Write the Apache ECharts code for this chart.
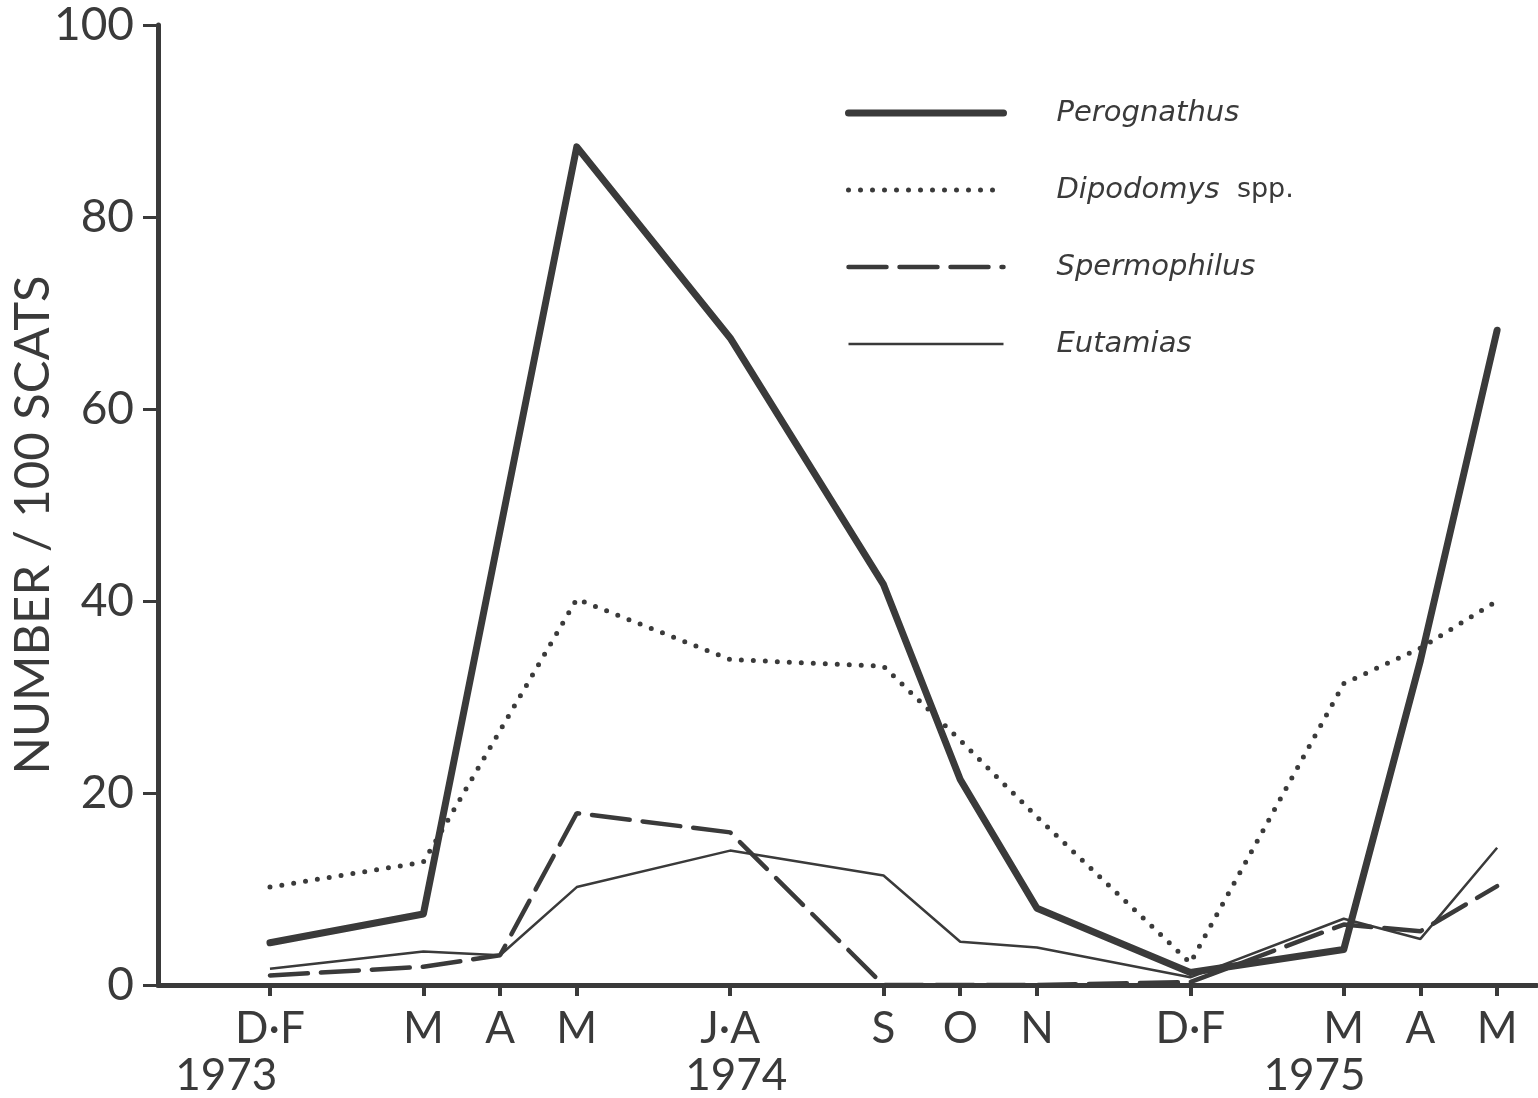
<!DOCTYPE html>
<html><head><meta charset="utf-8">
<script src="https://cdn.jsdelivr.net/npm/echarts@6/dist/echarts.min.js"></script>
<style>html,body{margin:0;padding:0;background:#fff}#c{width:1538px;height:1098px}</style>
</head><body><div id="c"></div>
<script>
// positions of the sampling periods along the time axis (months from D·F 1973)
const monthPos = [0, 2, 3, 4, 6, 8, 9, 10, 12, 14, 15, 16];
const monthLabels = ['D·F', 'M', 'A', 'M', 'J·A', 'S', 'O', 'N', 'D·F', 'M', 'A', 'M'];
const yearPos = [-0.57, 6.08, 13.62];
const yearLabels = ['1973', '1974', '1975'];

const seriesNames = ['Perognathus', 'Dipodomys spp.', 'Spermophilus', 'Eutamias'];
const perognathus  = [4.4, 7.4, null, 87.3, 67.4, 41.7, 21.4, 8.0, 1.3, 3.7, 33.8, 68.2];
const dipodomys    = [10.2, 12.8, null, 40.2, 33.9, 33.2, 25.5, 17.5, 2.3, 31.4, 35.1, 40.0];
const spermophilus = [1.0, 1.9, 3.1, 17.9, 15.9, 0, 0, 0, 0.3, 6.3, 5.6, 10.3];
const eutamias     = [1.7, 3.5, 3.1, 10.2, 14.0, 11.4, 4.5, 3.9, 0.8, 6.9, 4.8, 14.3];

const INK = '#3a3a3a';
const FONT = 'Lato';
const LFONT = 'DejaVu Sans';

function pts(arr) {
  const out = [];
  arr.forEach((v, i) => { if (v !== null) out.push([monthPos[i], v]); });
  return out;
}

const chart = echarts.init(document.getElementById('c'), null, {renderer: 'canvas'});
chart.setOption({
  animation: false,
  backgroundColor: '#ffffff',
  grid: {left: 158, right: 1, top: 25, bottom: 113, outerBoundsMode: 'none', containLabel: false},
  legend: {
    orient: 'vertical',
    left: 840, top: 90,
    itemWidth: 155, itemHeight: 14,
    itemGap: 41,
    data: seriesNames,
    itemStyle: {opacity: 0, borderWidth: 0},
    lineStyle: {width: 'inherit', type: 'inherit', cap: 'inherit', color: 'inherit'},
    formatter: function (name) {
      if (name === 'Dipodomys spp.') return '{g| }{i|Dipodomys}{n|  spp.}';
      return '{g| }{i|' + name + '}';
    },
    textStyle: {
      color: INK, fontFamily: LFONT, fontSize: 29, lineHeight: 36,
      rich: {
        g: {width: 48, fontSize: 29},
        i: {fontStyle: 'italic', fontFamily: LFONT, fontSize: 29, color: INK},
        n: {fontStyle: 'normal', fontFamily: LFONT, fontSize: 27, color: INK}
      }
    }
  },
  xAxis: [{
    type: 'value', min: -1.46, max: 16.52,
    splitLine: {show: false},
    axisLine: {show: true, onZero: false, lineStyle: {color: INK, width: 5}},
    axisTick: {show: true, customValues: monthPos, length: 11, lineStyle: {color: INK, width: 4}},
    axisLabel: {
      show: true, customValues: monthPos, margin: 22,
      formatter: function (v) { const i = monthPos.indexOf(v); return i >= 0 ? monthLabels[i] : ''; },
      color: INK, fontFamily: FONT, fontSize: 44, lineHeight: 44
    }
  }, {
    type: 'value', min: -1.46, max: 16.52, position: 'bottom', gridIndex: 0,
    splitLine: {show: false},
    axisLine: {show: false, onZero: false}, axisTick: {show: false},
    axisLabel: {
      show: true, customValues: yearPos, margin: 69,
      formatter: function (v) { const i = yearPos.indexOf(v); return i >= 0 ? yearLabels[i] : ''; },
      color: INK, fontFamily: FONT, fontSize: 44, lineHeight: 44
    }
  }],
  yAxis: {
    type: 'value', min: 0, max: 100, interval: 20,
    splitLine: {show: false},
    axisLine: {show: true, onZero: false, lineStyle: {color: INK, width: 5}},
    axisTick: {show: true, length: 15, lineStyle: {color: INK, width: 3}},
    axisLabel: {color: INK, fontFamily: FONT, fontSize: 46, margin: 24},
    name: 'NUMBER / 100 SCATS',
    nameLocation: 'middle', nameRotate: 90, nameGap: 100, nameMoveOverlap: false,
    nameTextStyle: {color: INK, fontFamily: FONT, fontSize: 49, padding: [0, 40, 0, 0]}
  },
  series: [
    {name: seriesNames[0], type: 'line', data: pts(perognathus), symbol: 'none', xAxisIndex: 0,
     lineStyle: {color: INK, width: 7, cap: 'round', join: 'round'}, itemStyle: {color: INK}, z: 5},
    {name: seriesNames[1], type: 'line', data: pts(dipodomys), symbol: 'none', xAxisIndex: 0,
     lineStyle: {color: INK, width: 5, type: [0, 12], cap: 'round'}, itemStyle: {color: INK}},
    {name: seriesNames[2], type: 'line', data: pts(spermophilus), symbol: 'none', xAxisIndex: 0,
     lineStyle: {color: INK, width: 4.5, type: [38, 13], cap: 'round'}, itemStyle: {color: INK}},
    {name: seriesNames[3], type: 'line', data: pts(eutamias), symbol: 'none', xAxisIndex: 0,
     lineStyle: {color: INK, width: 2.5}, itemStyle: {color: INK}}
  ]
});
</script></body></html>
